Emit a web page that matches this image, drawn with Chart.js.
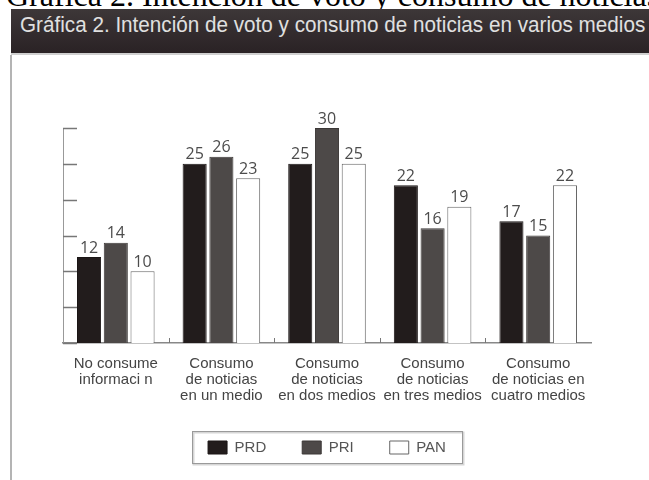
<!DOCTYPE html>
<html>
<head>
<meta charset="utf-8">
<script src="https://cdn.jsdelivr.net/npm/chart.js@4.4.0/dist/chart.umd.min.js"></script>
<style>
html, body { margin: 0; padding: 0; background: #fff; width: 649px; height: 480px; overflow: hidden; position: relative; }
#cap { position: absolute; left: 6px; top: -21px; font: 32px 'Liberation Serif', 'Times New Roman', serif; line-height: 32px; white-space: nowrap; color: #000; }
#banner { position: absolute; left: 11px; top: 9px; width: 638px; height: 44px; background: linear-gradient(#3d3738, #2a2225); border-bottom: 2px solid #cfcfcf; overflow: hidden; }
#bannerText { position: absolute; left: 9px; top: 4px; font: 22px 'Liberation Sans', Arial, sans-serif; line-height: 24px; color: #e0e0e0; white-space: nowrap; transform-origin: 0 0; }
#frame { position: absolute; left: 10px; top: 55px; width: 637px; height: 425px; border-left: 2px solid #b4b4b4; }
</style>
</head>
<body>
<div id="cap">Gráfica 2. Intención de voto y consumo de noticias</div>
<div id="banner"><span id="bannerText">Gráfica 2. Intención de voto y consumo de noticias en varios medios</span></div>
<div id="frame"><canvas id="chart" width="637" height="425"></canvas></div>
<script>
const categories = [
  ['No consume', 'informaci n'],
  ['Consumo', 'de noticias', 'en un medio'],
  ['Consumo', 'de noticias', 'en dos medios'],
  ['Consumo', 'de noticias', 'en tres medios'],
  ['Consumo', 'de noticias en', 'cuatro medios']
];
const prd = [12, 25, 25, 22, 17];
const pri = [14, 26, 30, 16, 15];
const pan = [10, 23, 25, 19, 22];
const yTicks = [0, 5, 10, 15, 20, 25, 30];

// squeeze the banner title to the width it has in the scan
const bannerText = document.getElementById('bannerText');
bannerText.style.transform = `scaleX(${625 / bannerText.offsetWidth})`;

const marks = {
  id: 'marks',
  afterDatasetsDraw(chart) {
    const ctx = chart.ctx;
    const area = chart.chartArea;
    const y = chart.scales.y;
    const x = chart.scales.x;
    ctx.save();

    // short ticks pointing into the plot
    ctx.strokeStyle = '#777';
    ctx.lineWidth = 1.5;
    yTicks.forEach(v => {
      const py = Math.round(y.getPixelForValue(v)) + 0.5;
      ctx.beginPath();
      ctx.moveTo(area.left, py);
      ctx.lineTo(area.left + 14, py);
      ctx.stroke();
    });

    // little marks between the groups
    ctx.lineWidth = 1;
    for (let i = 1; i < categories.length; i++) {
      const px = Math.round((x.getPixelForValue(i - 1) + x.getPixelForValue(i)) / 2) + 0.5;
      ctx.beginPath();
      ctx.moveTo(px, area.bottom);
      ctx.lineTo(px, area.bottom - 5);
      ctx.stroke();
    }

    // values over the bars
    ctx.font = "16px 'Open Sans', sans-serif";
    ctx.fillStyle = '#4c4c4c';
    ctx.textAlign = 'center';
    ctx.textBaseline = 'bottom';
    chart.data.datasets.forEach((ds, di) => {
      chart.getDatasetMeta(di).data.forEach((bar, i) => {
        ctx.fillText(ds.data[i], bar.x, bar.y - 1);
      });
    });
    ctx.restore();
  },
  afterDraw(chart) {
    // frame round the legend
    const boxes = chart.legend.legendHitBoxes;
    if (!boxes || !boxes.length) return;
    const first = boxes[0];
    const last = boxes[boxes.length - 1];
    const left = Math.round(first.left - 16) + 0.5;
    const right = Math.round(last.left + last.width + 16) + 0.5;
    const top = Math.round(first.top - 9) + 0.5;
    const bottom = Math.round(first.top + first.height + 8) + 0.5;
    const ctx = chart.ctx;
    ctx.save();
    ctx.strokeStyle = '#d6d6d6';
    ctx.lineWidth = 2;
    ctx.strokeRect(left + 1, top + 1, right - left, bottom - top);
    ctx.strokeStyle = '#9a9a9a';
    ctx.lineWidth = 1;
    ctx.strokeRect(left, top, right - left, bottom - top);
    ctx.restore();
  }
};

new Chart(document.getElementById('chart'), {
  type: 'bar',
  data: {
    labels: categories,
    datasets: [
      { label: 'PRD', data: prd, backgroundColor: '#221c1c', borderColor: '#1a1515', borderWidth: 1 },
      { label: 'PRI', data: pri, backgroundColor: '#4d4948', borderColor: '#3c3837', borderWidth: 1 },
      { label: 'PAN', data: pan, backgroundColor: '#ffffff', borderColor: '#666', borderWidth: 1 }
    ]
  },
  options: {
    responsive: false,
    animation: false,
    devicePixelRatio: 1,
    datasets: {
      bar: { barPercentage: 0.9, categoryPercentage: 0.76 }
    },
    layout: {
      padding: { left: 51, right: 58, top: 73, bottom: 15 }
    },
    plugins: {
      title: { display: false },
      tooltip: { enabled: false },
      legend: {
        position: 'bottom',
        labels: {
          boxWidth: 19,
          boxHeight: 13,
          padding: 36,
          color: '#555',
          font: { family: "'Liberation Sans', Arial, sans-serif", size: 15 }
        }
      }
    },
    scales: {
      x: {
        grid: { display: false, drawTicks: false },
        border: { color: '#888', width: 1.5 },
        afterFit(scale) { scale.height = 61; },
        ticks: {
          color: '#444',
          padding: 13,
          maxRotation: 0,
          autoSkip: false,
          font: { family: "'Liberation Sans', Arial, sans-serif", size: 15, lineHeight: 1.07 }
        }
      },
      y: {
        min: 0,
        max: 30,
        grid: { display: false, drawTicks: false },
        border: { color: '#999', width: 1 },
        ticks: { display: false, stepSize: 5 }
      }
    }
  },
  plugins: [marks]
});
</script>
</body>
</html>
